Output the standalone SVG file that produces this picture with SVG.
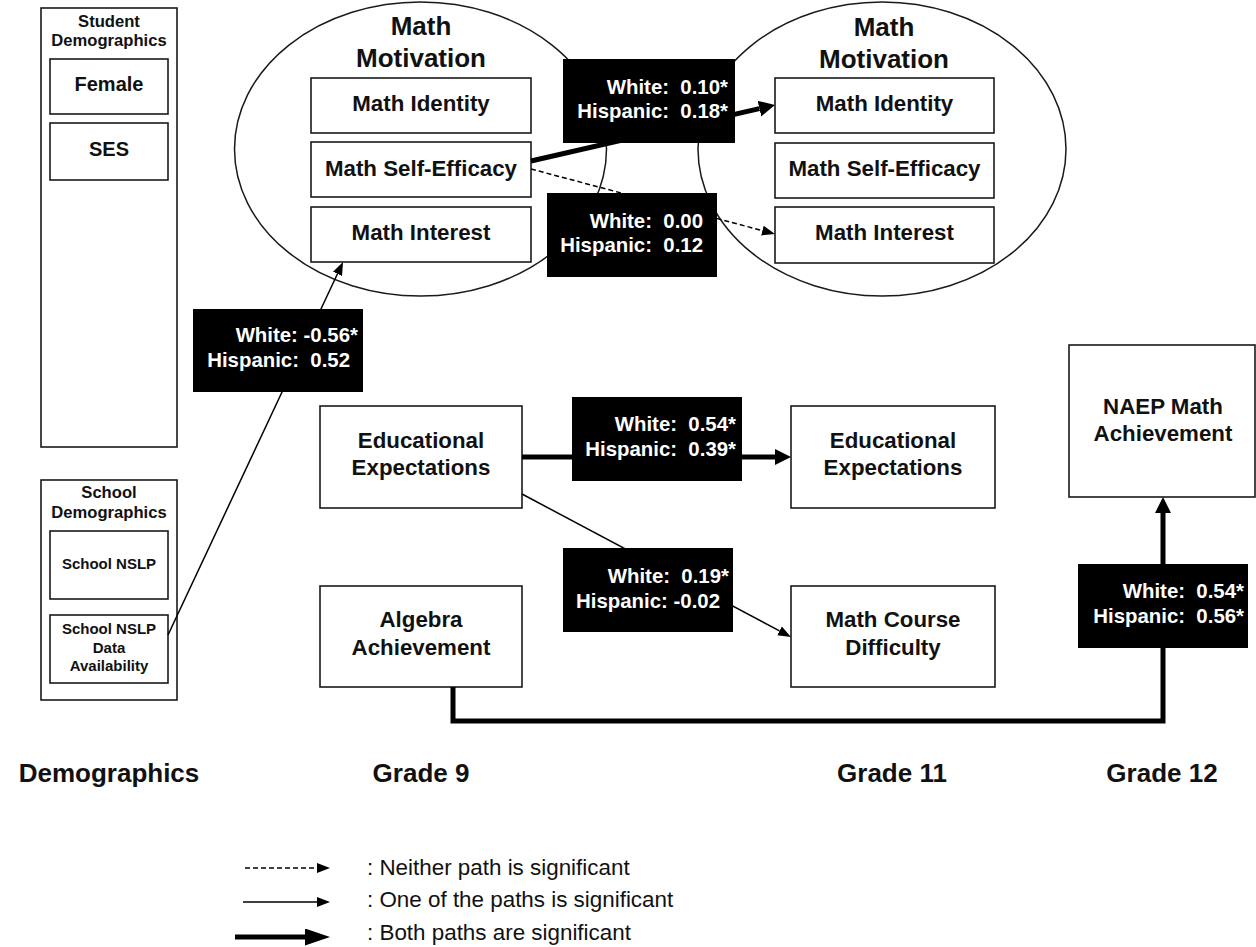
<svg xmlns="http://www.w3.org/2000/svg" width="1256" height="947" viewBox="0 0 1256 947">
  <style>
    .box { fill: #fff; stroke: #1a1a1a; stroke-width: 1.6; }
    .ell { fill: none; stroke: #1a1a1a; stroke-width: 1.5; }
    .lbl { fill: #000; }
    .t { font-family: "Liberation Sans", Arial, sans-serif; font-weight: bold; fill: #111; text-anchor: middle; }
    .n22 { font-size: 22.3px; }
    .n20 { font-size: 20px; }
    .n16 { font-size: 16.6px; }
    .n15 { font-size: 15px; }
    .ttl { font-size: 26px; }
    .col { font-size: 26px; }
    .w { font-family: "Liberation Sans", Arial, sans-serif; font-weight: bold; font-size: 20.4px; fill: #fff; text-anchor: end; white-space: pre; }
    .leg { font-family: "Liberation Sans", Arial, sans-serif; font-size: 22.4px; fill: #111; }
    .thick { fill: none; stroke: #000; stroke-width: 5; stroke-linejoin: miter; }
    .thin { fill: none; stroke: #000; stroke-width: 1.5; }
    .dash { fill: none; stroke: #000; stroke-width: 1.5; stroke-dasharray: 5 3; }
  </style>
  <defs>
    <marker id="hThick" markerUnits="userSpaceOnUse" markerWidth="17" markerHeight="17" refX="0" refY="8" orient="auto">
      <path d="M0,0 L16,8 L0,16 z" fill="#000"/>
    </marker>
    <marker id="hThin" markerUnits="userSpaceOnUse" markerWidth="14" markerHeight="11" refX="0" refY="5" orient="auto">
      <path d="M0,0 L13,5 L0,10 z" fill="#000"/>
    </marker>
    <marker id="hLegThick" markerUnits="userSpaceOnUse" markerWidth="26" markerHeight="18" refX="0" refY="8.5" orient="auto">
      <path d="M0,0 L25,8.5 L0,17 z" fill="#000"/>
    </marker>
  </defs>

  <rect width="1256" height="947" fill="#fff"/>

  <!-- latent construct ellipses -->
  <g id="motivation-g9">
    <ellipse class="ell" cx="420.5" cy="149" rx="186" ry="147"/>
    <text class="t ttl" x="421" y="35">Math</text>
    <text class="t ttl" x="421" y="67">Motivation</text>
  </g>
  <g id="motivation-g11">
    <ellipse class="ell" cx="882" cy="149" rx="184" ry="147"/>
    <text class="t ttl" x="884" y="36">Math</text>
    <text class="t ttl" x="884" y="68">Motivation</text>
  </g>

  <!-- demographics containers -->
  <g id="student-demographics">
    <rect class="box" x="41" y="8" width="136" height="439"/>
    <text class="t n16" x="109" y="27">Student</text>
    <text class="t n16" x="109" y="46">Demographics</text>
  </g>
  <g id="female">
    <rect class="box" x="50" y="59" width="118" height="55"/>
    <text class="t n20" x="109" y="91">Female</text>
  </g>
  <g id="ses">
    <rect class="box" x="50" y="123" width="118" height="57"/>
    <text class="t n20" x="109" y="156">SES</text>
  </g>
  <g id="school-demographics">
    <rect class="box" x="41" y="480" width="136" height="220"/>
    <text class="t n16" x="109" y="498">School</text>
    <text class="t n16" x="109" y="518">Demographics</text>
  </g>
  <g id="school-nslp">
    <rect class="box" x="50" y="531" width="118" height="68"/>
    <text class="t n15" x="109" y="569">School NSLP</text>
  </g>
  <g id="school-nslp-data">
    <rect class="box" x="50" y="615" width="118" height="68"/>
    <text class="t n15" x="109" y="634">School NSLP</text>
    <text class="t n15" x="109" y="653">Data</text>
    <text class="t n15" x="109" y="671">Availability</text>
  </g>

  <!-- grade 9 -->
  <g id="identity-g9">
    <rect class="box" x="311" y="78" width="220" height="55"/>
    <text class="t n22" x="421" y="111">Math Identity</text>
  </g>
  <g id="selfeff-g9">
    <rect class="box" x="311" y="142" width="220" height="55"/>
    <text class="t n22" x="421" y="176">Math Self-Efficacy</text>
  </g>
  <g id="interest-g9">
    <rect class="box" x="311" y="207" width="220" height="55"/>
    <text class="t n22" x="421" y="240">Math Interest</text>
  </g>
  <g id="edexp-g9">
    <rect class="box" x="320" y="406" width="202" height="102"/>
    <text class="t n22" x="421" y="448">Educational</text>
    <text class="t n22" x="421" y="475">Expectations</text>
  </g>
  <g id="algebra-g9">
    <rect class="box" x="320" y="586" width="202" height="101"/>
    <text class="t n22" x="421" y="627">Algebra</text>
    <text class="t n22" x="421" y="655">Achievement</text>
  </g>

  <!-- grade 11 -->
  <g id="identity-g11">
    <rect class="box" x="775" y="78" width="219" height="55"/>
    <text class="t n22" x="884.5" y="111">Math Identity</text>
  </g>
  <g id="selfeff-g11">
    <rect class="box" x="775" y="143" width="219" height="55"/>
    <text class="t n22" x="884.5" y="176">Math Self-Efficacy</text>
  </g>
  <g id="interest-g11">
    <rect class="box" x="775" y="207" width="219" height="56"/>
    <text class="t n22" x="884.5" y="240">Math Interest</text>
  </g>
  <g id="edexp-g11">
    <rect class="box" x="791" y="406" width="204" height="102"/>
    <text class="t n22" x="893" y="448">Educational</text>
    <text class="t n22" x="893" y="475">Expectations</text>
  </g>
  <g id="course-g11">
    <rect class="box" x="791" y="586" width="204" height="101"/>
    <text class="t n22" x="893" y="627">Math Course</text>
    <text class="t n22" x="893" y="655">Difficulty</text>
  </g>

  <!-- grade 12 -->
  <g id="naep-g12">
    <rect class="box" x="1069" y="345" width="186" height="152"/>
    <text class="t n22" x="1163" y="414">NAEP Math</text>
    <text class="t n22" x="1163" y="441">Achievement</text>
  </g>

  <!-- paths -->
  <g id="connectors">
    <line class="thick" x1="531" y1="161" x2="759.4" y2="108.6" marker-end="url(#hThick)"/>
    <line class="dash" x1="531" y1="169" x2="762.4" y2="230.6" marker-end="url(#hThin)"/>
    <line class="thin" x1="168" y1="635" x2="337.5" y2="273.8" marker-end="url(#hThin)"/>
    <line class="thick" x1="522" y1="457" x2="775" y2="457" marker-end="url(#hThick)"/>
    <line class="thin" x1="522" y1="494" x2="779.5" y2="630.9" marker-end="url(#hThin)"/>
    <polyline class="thick" points="453,687 453,721 1163,721 1163,513" marker-end="url(#hThick)"/>
  </g>

  <!-- path coefficients -->
  <g id="coef-selfeff-identity">
    <rect class="lbl" x="563" y="59" width="172" height="84"/>
    <text class="w" x="728" y="94">White:  0.10*</text>
    <text class="w" x="728" y="118">Hispanic:  0.18*</text>
  </g>
  <g id="coef-selfeff-interest">
    <rect class="lbl" x="547" y="193" width="170" height="84"/>
    <text class="w" x="703" y="228">White:  0.00</text>
    <text class="w" x="703" y="252">Hispanic:  0.12</text>
  </g>
  <g id="coef-nslp-interest">
    <rect class="lbl" x="193" y="309" width="170" height="83"/>
    <text class="w" x="358" y="342">White: -0.56*</text>
    <text class="w" x="350" y="367">Hispanic:  0.52</text>
  </g>
  <g id="coef-edexp">
    <rect class="lbl" x="572" y="397" width="170" height="84"/>
    <text class="w" x="736" y="431">White:  0.54*</text>
    <text class="w" x="736" y="456">Hispanic:  0.39*</text>
  </g>
  <g id="coef-edexp-course">
    <rect class="lbl" x="563" y="548" width="170" height="84"/>
    <text class="w" x="729" y="583">White:  0.19*</text>
    <text class="w" x="720" y="608">Hispanic: -0.02</text>
  </g>
  <g id="coef-algebra-naep">
    <rect class="lbl" x="1078" y="564" width="170" height="84"/>
    <text class="w" x="1244" y="598">White:  0.54*</text>
    <text class="w" x="1244" y="623">Hispanic:  0.56*</text>
  </g>

  <!-- column headings -->
  <g id="columns">
    <text class="t col" x="109" y="782">Demographics</text>
    <text class="t col" x="421" y="782">Grade 9</text>
    <text class="t col" x="892" y="782">Grade 11</text>
    <text class="t col" x="1162" y="782">Grade 12</text>
  </g>

  <!-- legend -->
  <g id="legend">
    <line class="dash" x1="245" y1="868" x2="317" y2="868" stroke-dasharray="4 3" marker-end="url(#hThin)"/>
    <line class="thin" x1="243" y1="902" x2="317" y2="902" marker-end="url(#hThin)"/>
    <line class="thick" x1="235" y1="937" x2="305" y2="937" stroke-width="6" marker-end="url(#hLegThick)"/>
    <text class="leg" x="367" y="875">: Neither path is significant</text>
    <text class="leg" x="367" y="907">: One of the paths is significant</text>
    <text class="leg" x="367" y="940">: Both paths are significant</text>
  </g>
</svg>
